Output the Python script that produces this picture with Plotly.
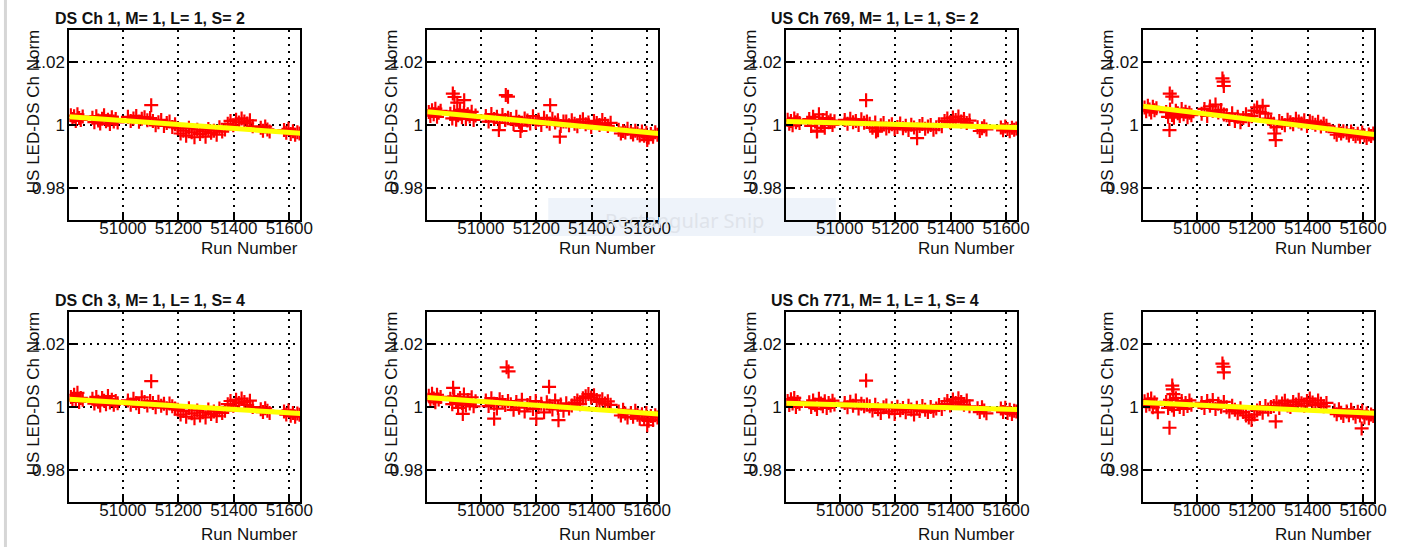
import plotly.graph_objects as go

# ---------------- data ----------------
runs = [50812, 50818, 50824, 50830, 50836, 50842, 50848, 50855,
        50890, 50897, 50904, 50911, 50918, 50925, 50932, 50939, 50946, 50953, 50960, 50967, 50974, 50981,
        51018, 51028, 51038, 51048, 51058, 51068, 51078, 51088, 51098,
        51108, 51118, 51128, 51138, 51148, 51158, 51168, 51178, 51188,
        51198, 51208, 51218, 51228, 51238, 51248, 51258, 51268, 51278, 51288,
        51298, 51308, 51318, 51328, 51338, 51348, 51358, 51368,
        51378, 51388, 51398, 51408, 51418, 51428, 51438, 51448, 51458, 51468,
        51497, 51505, 51513, 51521, 51529,
        51541, 51549, 51557, 51565, 51573,
        51581, 51589, 51597, 51605, 51613, 51621, 51629, 51637]

N = None

y_ds1_us = [1.0030, 1.0018, 1.0027, 1.0012, 1.0033, 1.0021, 1.0015, 1.0026,
            1.0022, 1.0008, 1.0027, 1.0013, 1.0004, 1.0019, 1.0030, 1.0011, 1.0016, 1.0002, 1.0024, 1.0010, 1.0018, 1.0007,
            1.0025, 1.0012, 1.0020, 1.0028, 1.0009, 1.0019, 1.0024, 1.0014, 1.0021,
            1.0012, 0.9998, 1.0008, 1.0015, 0.9996, 1.0005, 1.0010, 0.9993, 1.0001,
            0.9988, 0.9972, 0.9981, 0.9965, 0.9990, 0.9976, 0.9960, 0.9984, 0.9970, 0.9979,
            0.9962, 0.9986, 0.9974, 0.9981, 0.9968, 0.9992, 0.9978, 0.9985,
            1.0003, 1.0012, 0.9998, 1.0016, 1.0007, 1.0020, 1.0010, 1.0004, 1.0014, 0.9995,
            0.9990, 0.9981, 0.9994, 0.9985, 0.9978,
            N, N, N, N, N,
            0.9983, 0.9974, 0.9987, 0.9970, 0.9979, 0.9968, 0.9976, 0.9972]

y_ds1_ds = [1.0040, 1.0028, 1.0046, 1.0033, 1.0051, 1.0025, 1.0038, 1.0044,
            1.0035, 1.0020, 1.0042, 1.0016, 1.0030, 1.0047, 1.0024, 1.0038, 1.0018, 1.0033, 1.0026, 1.0041, 1.0015, 1.0029,
            1.0028, 1.0010, 1.0034, 1.0018, 1.0025, 1.0006, 1.0031, 1.0015, 1.0022,
            1.0018, 1.0002, 1.0025, 1.0009, 0.9997, 1.0020, 1.0013, 1.0004, 1.0027,
            1.0008, 1.0016, 0.9999, 1.0022, 1.0011, 1.0003, 1.0019, 1.0007, 1.0014, 0.9996,
            1.0010, 1.0010, 0.9998, 1.0014, 1.0003, 0.9995, 1.0009, 1.0017,
            1.0001, 1.0007, 0.9993, 1.0012, 1.0005, 0.9999, 1.0015, 1.0002, 0.9996, 1.0006,
            0.9984, 0.9972, 0.9980, 0.9975, 0.9987,
            0.9976, 0.9969, 0.9981, 0.9973, 0.9966,
            0.9978, 0.9965, 0.9974, 0.9959, 0.9970, 0.9962, 0.9976, 0.9968]

y_us769_us = [1.0016, 1.0003, 1.0012, 0.9998, 1.0020, 1.0008, 1.0014, 1.0005,
              1.0018, 0.9996, 1.0025, 1.0010, 0.9981, 1.0033, 1.0004, 1.0015, 0.9990, 1.0021, 1.0008, 1.0013, 0.9999, 1.0011,
              1.0015, 1.0003, 1.0019, 1.0008, 1.0012, 0.9999, 1.0017, 1.0006, 1.0010,
              1.0003, 0.9990, 1.0007, 0.9982, 0.9998, 1.0005, 0.9988, 0.9995, 1.0001,
              0.9986, 0.9993, 1.0004, 0.9989, 0.9997, 0.9983, 1.0000, 0.9991, 0.9985, 0.9996,
              1.0002, 0.9987, 0.9994, 0.9999, 0.9984, 0.9992, 1.0001, 0.9995,
              1.0012, 1.0020, 1.0008, 1.0023, 1.0015, 1.0026, 1.0010, 1.0018, 1.0005, 1.0013,
              0.9992, 0.9980, 0.9989, 0.9995, 0.9985,
              N, N, N, N, N,
              0.9991, 0.9982, 0.9994, 0.9986, 0.9979, 0.9990, 0.9984, 0.9988]

y_us769_ds = [1.0055, 1.0043, 1.0060, 1.0048, 1.0039, 1.0057, 1.0046, 1.0052,
              1.0040, 1.0025, 1.0048, 1.0031, 1.0022, 1.0044, 1.0036, 1.0028, 1.0050, 1.0033, 1.0041, 1.0024, 1.0038, 1.0030,
              1.0035, 1.0050, 1.0028, 1.0058, 1.0044, 1.0064, 1.0039, 1.0047, 1.0032,
              1.0030, 1.0018, 1.0036, 1.0012, 1.0025, 1.0008, 1.0021, 1.0033, 1.0015,
              1.0027, 1.0045, 1.0055, 1.0040, 1.0060, 1.0035, 1.0019, 1.0010, 1.0003, 0.9992,
              1.0012, 1.0005, 0.9998, 1.0016, 1.0008, 1.0001, 1.0019, 1.0010,
              1.0004, 1.0014, 0.9996, 1.0011, 1.0006, 1.0000, 1.0009, 0.9994, 1.0003, 0.9997,
              0.9976, 0.9968, 0.9981, 0.9972, 0.9979,
              0.9974, 0.9966, 0.9978, 0.9970, 0.9963,
              0.9971, 0.9962, 0.9975, 0.9966, 0.9958, 0.9969, 0.9964, 0.9972]

y_ds3_us = [1.0031, 1.0019, 1.0038, 1.0024, 1.0044, 1.0015, 1.0028, 1.0022,
            1.0025, 1.0010, 1.0031, 1.0016, 1.0004, 1.0028, 1.0019, 1.0008, 1.0034, 1.0013, 1.0022, 1.0006, 1.0018, 1.0011,
            1.0020, 1.0006, 1.0025, 1.0011, 0.9999, 1.0030, 1.0015, 1.0004, 1.0018,
            1.0012, 0.9998, 1.0016, 1.0003, 1.0009, 0.9995, 1.0010, 1.0001, 0.9994,
            0.9990, 0.9975, 0.9986, 0.9968, 0.9995, 0.9979, 0.9963, 0.9988, 0.9972, 0.9982,
            0.9966, 0.9991, 0.9977, 0.9985, 0.9970, 0.9994, 0.9980, 0.9987,
            1.0008, 1.0018, 1.0003, 1.0022, 1.0012, 1.0026, 1.0015, 1.0006, 1.0019, 0.9999,
            0.9992, 0.9983, 0.9995, 0.9987, 0.9980,
            N, N, N, N, N,
            0.9985, 0.9975, 0.9988, 0.9971, 0.9980, 0.9968, 0.9978, 0.9974]

y_ds3_ds = [1.0035, 1.0020, 1.0041, 1.0026, 1.0014, 1.0038, 1.0023, 1.0031,
            1.0025, 1.0008, 1.0033, 1.0015, 0.9996, 1.0028, 1.0012, 1.0039, 1.0004, 1.0021, 1.0010, 1.0030, 1.0001, 1.0017,
            1.0020, 1.0002, 1.0027, 1.0009, 0.9994, 1.0024, 1.0015, 1.0005, 1.0018,
            1.0008, 0.9990, 1.0015, 0.9997, 1.0022, 0.9985, 1.0005, 1.0012, 0.9993,
            1.0018, 0.9999, 1.0009, 0.9982, 1.0014, 1.0003, 0.9991, 1.0020, 0.9996, 1.0007,
            0.9987, 1.0011, 0.9994, 1.0004, 1.0012, 1.0020, 1.0008, 1.0027,
            1.0033, 1.0040, 1.0029, 1.0036, 1.0021, 1.0015, 1.0024, 1.0010, 1.0017, 1.0006,
            0.9985, 0.9972, 0.9990, 0.9978, 0.9966,
            0.9980, 0.9968, 0.9987, 0.9974, 0.9962,
            0.9976, 0.9961, 0.9980, 0.9955, 0.9970, 0.9958, 0.9973, 0.9966]

y_us771_us = [1.0018, 1.0005, 1.0024, 1.0010, 1.0028, 0.9999, 1.0015, 1.0009,
              1.0014, 0.9999, 1.0020, 1.0006, 0.9993, 1.0025, 1.0010, 1.0001, 1.0017, 0.9996, 1.0012, 1.0004, 1.0019, 1.0007,
              1.0012, 0.9998, 1.0016, 1.0003, 1.0020, 0.9994, 1.0009, 1.0001, 1.0007,
              1.0001, 0.9988, 1.0006, 0.9992, 0.9980, 0.9998, 1.0004, 0.9985, 0.9995,
              0.9977, 1.0000, 0.9989, 0.9996, 0.9982, 1.0003, 0.9991, 0.9975, 0.9997, 0.9986,
              1.0002, 0.9990, 0.9983, 0.9999, 0.9987, 0.9994, 1.0005, 0.9993,
              1.0008, 1.0018, 1.0004, 1.0023, 1.0012, 1.0027, 1.0015, 1.0006, 1.0020, 1.0001,
              0.9995, 0.9983, 0.9998, 0.9988, 0.9979,
              N, N, N, N, N,
              0.9994, 0.9983, 0.9997, 0.9980, 0.9990, 0.9977, 0.9987, 0.9985]

y_us771_ds = [1.0017, 1.0003, 1.0022, 1.0008, 1.0026, 0.9998, 1.0013, 1.0006,
              1.0015, 0.9996, 1.0022, 1.0004, 0.9990, 1.0027, 1.0009, 0.9999, 1.0018, 0.9993, 1.0012, 1.0002, 1.0020, 1.0006,
              1.0012, 0.9996, 1.0018, 1.0003, 1.0021, 0.9993, 1.0009, 1.0000, 1.0015,
              0.9998, 0.9985, 1.0003, 0.9990, 0.9979, 0.9995, 0.9983, 0.9972, 0.9966,
              0.9958, 0.9975, 0.9988, 0.9996, 0.9981, 1.0002, 0.9991, 0.9999, 1.0002, 1.0014,
              0.9996, 1.0010, 1.0019, 1.0004, 0.9999, 1.0015, 1.0007, 1.0022,
              1.0011, 1.0003, 1.0018, 1.0026, 1.0013, 1.0006, 1.0020, 1.0009, 1.0001, 1.0012,
              0.9988, 0.9976, 0.9992, 0.9981, 0.9970,
              0.9985, 0.9973, 0.9990, 0.9979, 0.9968,
              0.9984, 0.9972, 0.9987, 0.9966, 0.9978, 0.9963, 0.9975, 0.9970]

# isolated outlying runs per panel
out_x = [[51102],
         [50899, 50905, 50940, 50915, 51090, 51098, 51065, 51250, 51285, 51143, 51600],
         [51095, 51279, 51131, 50918],
         [50903, 50912, 50902, 51093, 51097, 51098, 51285, 51280],
         [51102],
         [50900, 50935, 51093, 51100, 51048, 51246, 51200, 51280, 51600],
         [51095],
         [50860, 50912, 50914, 50916, 50902, 51093, 51097, 51098, 51285, 51595]]
out_y = [[1.0062],
         [1.0099, 1.0088, 1.0078, 1.0070, 1.0094, 1.0089, 0.9983, 1.0062, 0.9962, 0.9980, 0.9951],
         [1.0078, 0.9957, 0.9978, 0.9978],
         [1.0099, 1.0089, 0.9983, 1.0147, 1.0137, 1.0123, 0.9951, 0.9972],
         [1.0081],
         [1.0060, 0.9977, 1.0125, 1.0112, 0.9962, 1.0063, 0.9962, 0.9957, 0.9941],
         [1.0083],
         [0.9982, 1.0067, 1.0055, 1.0040, 0.9933, 1.0137, 1.0127, 1.0109, 0.9953, 0.9931]]

panel_y = [y_ds1_us, y_ds1_ds, y_us769_us, y_us769_ds,
           y_ds3_us, y_ds3_ds, y_us771_us, y_us771_ds]

# linear fit values at the two ends of the run range
fit_start = [1.0025, 1.0041, 1.0010, 1.0059, 1.0024, 1.0029, 1.0011, 1.0013]
fit_end = [0.9973, 0.9972, 0.9991, 0.9969, 0.9978, 0.9977, 0.9991, 0.9979]

panel_titles = ["DS Ch 1, M= 1, L= 1, S= 2", "", "US Ch 769, M= 1, L= 1, S= 2", "",
                "DS Ch 3, M= 1, L= 1, S= 4", "", "US Ch 771, M= 1, L= 1, S= 4", ""]
y_titles = ["US LED-DS Ch Norm", "DS LED-DS Ch Norm", "US LED-US Ch Norm", "DS LED-US Ch Norm"] * 2
x_title = "Run Number"

x_range = [50807, 51640]
y_range = [0.9697, 1.0301]
x_tickvals = [51000, 51200, 51400, 51600]
x_ticktext = ["51000", "51200", "51400", "51600"]
y_tickvals = [0.98, 1.0, 1.02]
y_ticktext = ["0.98", "1", "1.02"]

# ---------------- layout geometry (pixels) ----------------
W, H = 1402, 547
col_left = [70, 431, 793, 1153]
row_top = [30, 312]
pw, ph = 233, 190
xtitle_gap = [28, 32]

FONT = "Liberation Sans, Arial, Helvetica, sans-serif"
fig = go.Figure()
layout = dict(width=W, height=H, margin=dict(l=0, r=0, t=0, b=0),
              paper_bgcolor="white", plot_bgcolor="rgba(0,0,0,0)",
              showlegend=False, font=dict(family=FONT, size=17, color="black"))
annotations = []
shapes = []

def px(x):
    return x / W

def py(y):
    return 1 - y / H

for i in range(8):
    r, c = divmod(i, 4)
    L, T = col_left[c], row_top[r]
    sfx = "" if i == 0 else str(i + 1)
    xa, ya = "x" + sfx, "y" + sfx
    axis_common = dict(showline=True, mirror=True, linecolor="black", linewidth=2,
                       ticks="inside", ticklen=7, tickwidth=1.5, tickcolor="black",
                       showgrid=True, gridcolor="black", gridwidth=2, griddash="2px,5px",
                       zeroline=False, tickfont=dict(family=FONT, size=17, color="#111"),
                       fixedrange=True)
    layout["xaxis" + sfx] = dict(axis_common, domain=[px(L), px(L + pw)], range=x_range,
                                 tickvals=x_tickvals, ticktext=x_ticktext, anchor=ya,
                                 ticklabelstandoff=-8)
    layout["yaxis" + sfx] = dict(axis_common, domain=[py(T + ph), py(T)], range=y_range,
                                 tickvals=y_tickvals, ticktext=y_ticktext, anchor=xa,
                                 ticklabelstandoff=-1)

    xs = runs + out_x[i]
    ys = panel_y[i] + out_y[i]
    fig.add_trace(go.Scatter(x=xs, y=ys, mode="markers", xaxis=xa, yaxis=ya,
                             marker=dict(symbol="cross-thin", size=10, color="#ff0000",
                                         line=dict(width=2.2, color="#ff0000")),
                             hoverinfo="skip"))
    fig.add_trace(go.Scatter(x=x_range, y=[fit_start[i], fit_end[i]], mode="lines",
                             xaxis=xa, yaxis=ya, line=dict(color="#ffff00", width=5),
                             hoverinfo="skip"))

    if panel_titles[i]:
        annotations.append(dict(text="<b>" + panel_titles[i] + "</b>", xref="paper", yref="paper",
                                x=px(L - 17), y=py(T - 12), xanchor="left", yanchor="middle",
                                showarrow=False, font=dict(family=FONT, size=16, color="#111")))
    annotations.append(dict(text=y_titles[i], xref="paper", yref="paper", textangle=-90,
                            x=px(L - 36), y=py(T - 2), xanchor="center", yanchor="top",
                            showarrow=False, font=dict(family=FONT, size=17, color="#111")))
    annotations.append(dict(text=x_title, xref="paper", yref="paper",
                            x=px(L + pw), y=py(T + ph + xtitle_gap[r]), xanchor="right", yanchor="middle",
                            showarrow=False, font=dict(family=FONT, size=17, color="#111")))

# screen-capture artefacts seen in the reference
shapes.append(dict(type="rect", xref="paper", yref="paper", x0=px(553), x1=px(843),
                   y0=py(236), y1=py(198), fillcolor="#eef3fa", line=dict(width=0), layer="below"))
shapes.append(dict(type="line", xref="paper", yref="paper", x0=px(5.5), x1=px(5.5),
                   y0=0, y1=1, line=dict(color="#d6d6d6", width=3), layer="below"))
annotations.append(dict(text="Rectangular Snip", xref="paper", yref="paper", x=px(690), y=py(221),
                        xanchor="center", yanchor="middle", showarrow=False,
                        font=dict(family="Noto Sans, sans-serif", size=20, color="#dfe3ea")))

layout["annotations"] = annotations
layout["shapes"] = shapes
fig.update_layout(**layout)
fig.write_html("out.html")
